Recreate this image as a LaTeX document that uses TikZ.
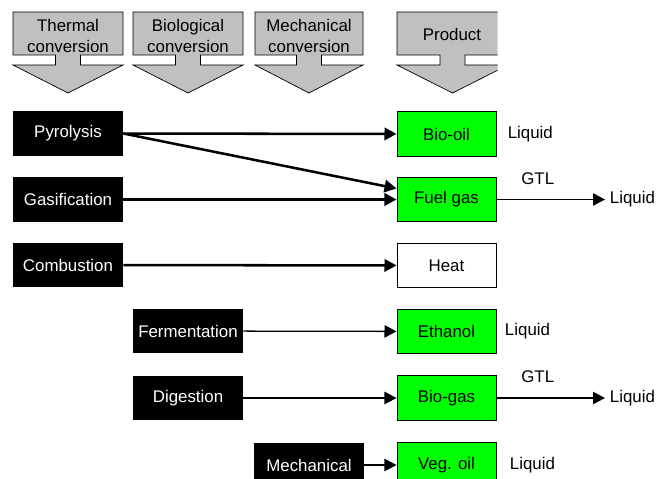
\documentclass[tikz,border=0pt]{standalone}
\usepackage{fontspec}
\setmainfont{Liberation Sans}
\usetikzlibrary{arrows.meta,positioning}
\definecolor{hdrgray}{RGB}{192,192,192}
\definecolor{prodgreen}{RGB}{0,255,0}
\newcommand{\convarrow}[2]{%
  \pgfmathsetmacro{\cmid}{(#1+#2)/2}%
  \draw[hdr] (#1,12) -- (#2,12) -- (#2,55) -- (\cmid+12.5,55) -- (\cmid+12.5,65) -- (#2,65)
    -- (\cmid,93) -- (#1,65) -- (\cmid-12.5,65) -- (\cmid-12.5,55) -- (#1,55) -- cycle;}

\begin{document}
\begin{tikzpicture}[
  x=0.025cm, y=-0.025cm,
  font=\fontsize{12}{14}\selectfont,
  hdr/.style={draw, fill=hdrgray, line width=0.5pt},
  hdrtext/.style={align=center, inner sep=0pt, font=\fontsize{12}{15}\selectfont},
  proc/.style={fill=black, text=white, minimum width=2.75cm, minimum height=1.1cm, inner sep=0pt},
  prod/.style={draw, fill=prodgreen, line width=0.7pt, minimum width=2.475cm, minimum height=1.12cm, inner sep=0pt},
  heatbox/.style={prod, fill=white},
  thickarr/.style={-{Triangle[length=3mm,width=3.1mm]}, line width=1.8pt},
  thinarr/.style={-{Triangle[length=3mm,width=3.1mm]}, line width=0.9pt}
]
\useasboundingbox (0,0) rectangle (657,479);
\clip (0,0) rectangle (657,479);
% header arrows
\convarrow{13}{123}
\convarrow{133}{243}
\convarrow{255}{363}
\begin{scope}
  \clip (390,0) rectangle (497.5,100);
  \convarrow{397}{508}
\end{scope}
\node[hdrtext] (head1) at (68,36) {Thermal\\conversion};
\node[hdrtext] (head2) at (188,36) {Biological\\conversion};
\node[hdrtext] (head3) at (309,36) {Mechanical\\conversion};
\node[hdrtext] (head4) at (452,34) {Product};
% processes
\node[proc] (pyro) at (68,133.5) {Pyrolysis};
\node[proc] (gasif) at (68,199.5) {Gasification};
\node[proc] (combust) at (68,265) {Combustion};
\node[proc] (ferment) at (188,331) {Fermentation};
\node[proc] (digest) at (188,398) {Digestion};
\node[proc] (mech) at (309,465) {Mechanical};
% products
\node[prod] (biooil) at (446.5,134) {Bio-oil};
\node[prod] (fuelgas) at (446.5,199.5) {Fuel gas};
\node[heatbox] (heat) at (446.5,265.5) {Heat};
\node[prod] (ethanol) at (446.5,331.5) {Ethanol};
\node[prod] (biogas) at (446.5,398) {Bio-gas};
\node[prod] (vegoil) at (446.5,465) {Veg. oil};
\node[right=4.5pt of biooil] (liq1) {Liquid};
\node[right=2.5pt of ethanol] (liq3) {Liquid};
\node[right=6pt of vegoil] (liq5) {Liquid};
\coordinate (gtlend1) at (605,199.5);
\coordinate (gtlend2) at (605,398);
\node[right=0pt of gtlend1] (liq2) {Liquid};
\node[right=0pt of gtlend2] (liq4) {Liquid};
% links
\draw[thickarr] (pyro) -- (biooil);
\draw[thickarr] (pyro.east) -- ([yshift=2.75mm]fuelgas.west);
\draw[thickarr] (gasif) -- (fuelgas);
\draw[thickarr] (combust) -- (heat);
\draw[thinarr] (ferment) -- (ethanol);
\draw[thinarr] (digest) -- (biogas);
\draw[thinarr] (mech) -- (vegoil);
\draw[thinarr] (fuelgas) -- (gtlend1) node[above=7pt, pos=0.38] (gtl1) {GTL};
\draw[thinarr] (biogas) -- (gtlend2) node[above=7pt, pos=0.38] (gtl2) {GTL};
\end{tikzpicture}
\end{document}
